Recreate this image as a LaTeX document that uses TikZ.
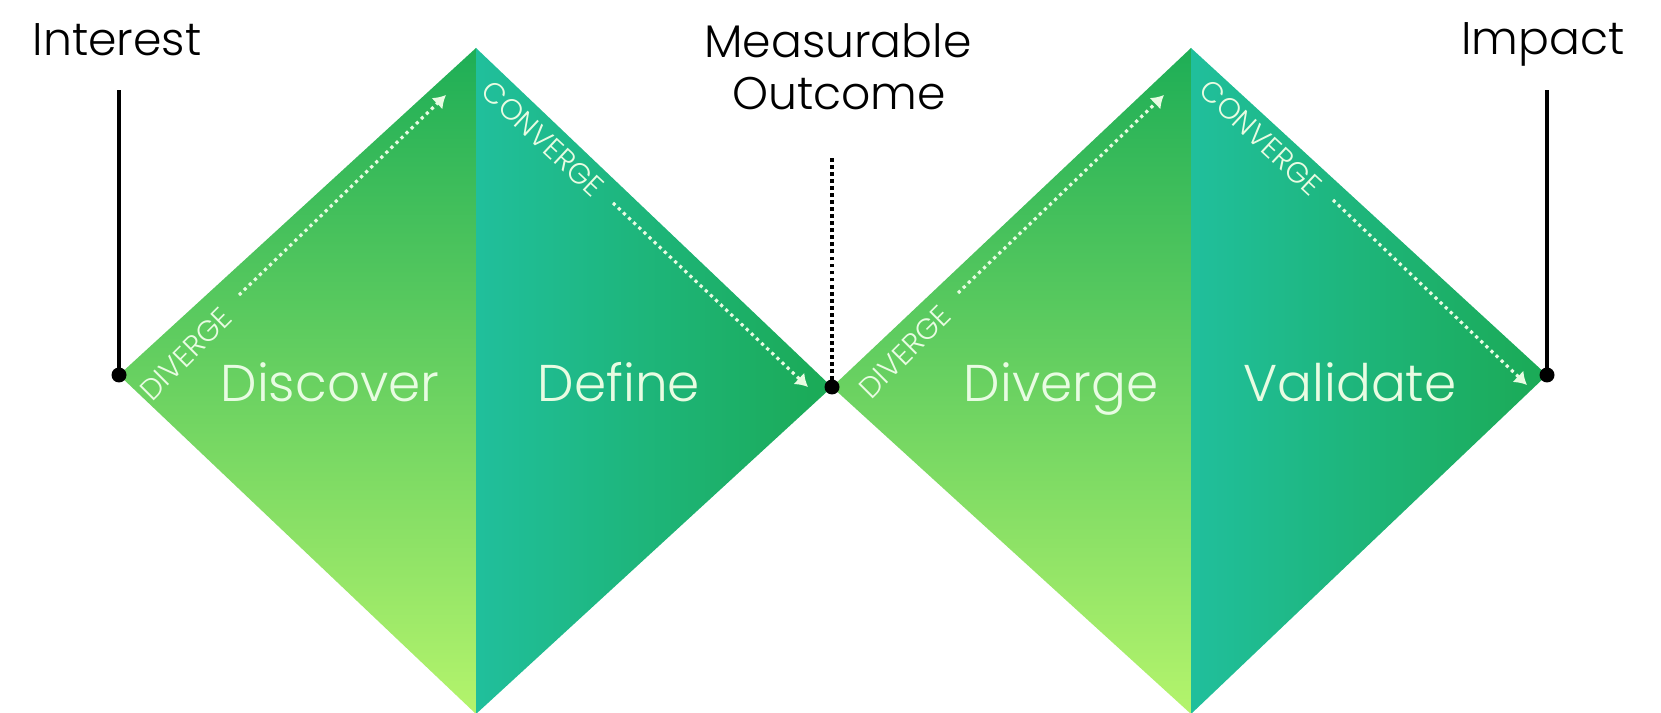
\documentclass[tikz,border=0pt]{standalone}
\usepackage{fontspec}
\setmainfont{Poppins}[UprightFont=* Light]
\usetikzlibrary{arrows.meta}

\definecolor{leafTop}{HTML}{1EAE56}
\definecolor{leafMid}{HTML}{52C963}
\definecolor{leafBot}{HTML}{B4F46C}
\definecolor{tealL}{HTML}{20BF9C}
\definecolor{tealR}{HTML}{1BAA55}
\definecolor{mint}{HTML}{E8FCE2}

\begin{document}
\begin{tikzpicture}[x=0.01cm,y=-0.01cm,
  phase/.style={text=mint,font=\fontsize{14.7}{16}\selectfont,anchor=base},
  edgetext/.style={text=mint,font=\fontsize{8.3}{9}\selectfont,inner sep=0pt},
  flow/.style={mint,line width=0.9pt,dash pattern=on 0.9pt off 1.1pt,-{Latex[length=3.5pt,width=4.5pt]}},
  tag/.style={font=\fontsize{13}{15}\selectfont,anchor=base},
  pin/.style={line width=1.2pt}]

\useasboundingbox (0,0) rectangle (1661,713);

\coordinate (L1) at (119,375);
\coordinate (T1) at (476,48);
\coordinate (M) at (832,387);
\coordinate (B1) at (476,714);
\coordinate (T2) at (1191,48);
\coordinate (R2) at (1547,375);
\coordinate (B2) at (1191,714);

\shade[top color=leafTop,middle color=leafMid,bottom color=leafBot] (L1) -- (T1) -- (B1) -- cycle;
\shade[left color=tealL,right color=tealR] (T1) -- (M) -- (B1) -- cycle;
\shade[top color=leafTop,middle color=leafMid,bottom color=leafBot] (M) -- (T2) -- (B2) -- cycle;
\shade[left color=tealL,right color=tealR] (T2) -- (R2) -- (B2) -- cycle;

\node[phase] (discover) at (330,402) {Discover};
\node[phase] (define) at (619,402) {Define};
\node[phase] (diverge) at (1061,402) {Diverge};
\node[phase] (validate) at (1350,402) {Validate};

\node[edgetext,rotate=45] (div1) at (186,354) {DIVERGE};
\node[edgetext,rotate=-43] (conv1) at (543,139) {CONVERGE};
\node[edgetext,rotate=45] (div2) at (905,352) {DIVERGE};
\node[edgetext,rotate=-43] (conv2) at (1261,138) {CONVERGE};

\coordinate (d1s) at (239,295);
\coordinate (d1e) at (446,95);
\coordinate (c1s) at (613,203);
\coordinate (c1e) at (808,387);
\coordinate (d2s) at (958,293);
\coordinate (d2e) at (1164,95);
\coordinate (c2s) at (1333,200);
\coordinate (c2e) at (1527,385);
\draw[flow] (d1s) -- (d1e);
\draw[flow] (c1s) -- (c1e);
\draw[flow] (d2s) -- (d2e);
\draw[flow] (c2s) -- (c2e);

\node[tag] (interest) at (117,56) {Interest};
\node[tag] (measurable) at (838,58) {Measurable};
\node[tag] (outcome) at (839,110) {Outcome};
\node[tag] (impact) at (1543,55) {Impact};

\coordinate (interestEnd) at (119,90);
\coordinate (outcomeEnd) at (832,157);
\coordinate (impactEnd) at (1547,90);
\draw[pin] (L1) -- (interestEnd);
\draw[pin,dash pattern=on 1.1pt off 0.9pt] (M) -- (outcomeEnd);
\draw[pin] (R2) -- (impactEnd);
\fill (L1) circle (7.5);
\fill (M) circle (7.5);
\fill (R2) circle (7.5);

\end{tikzpicture}
\end{document}
